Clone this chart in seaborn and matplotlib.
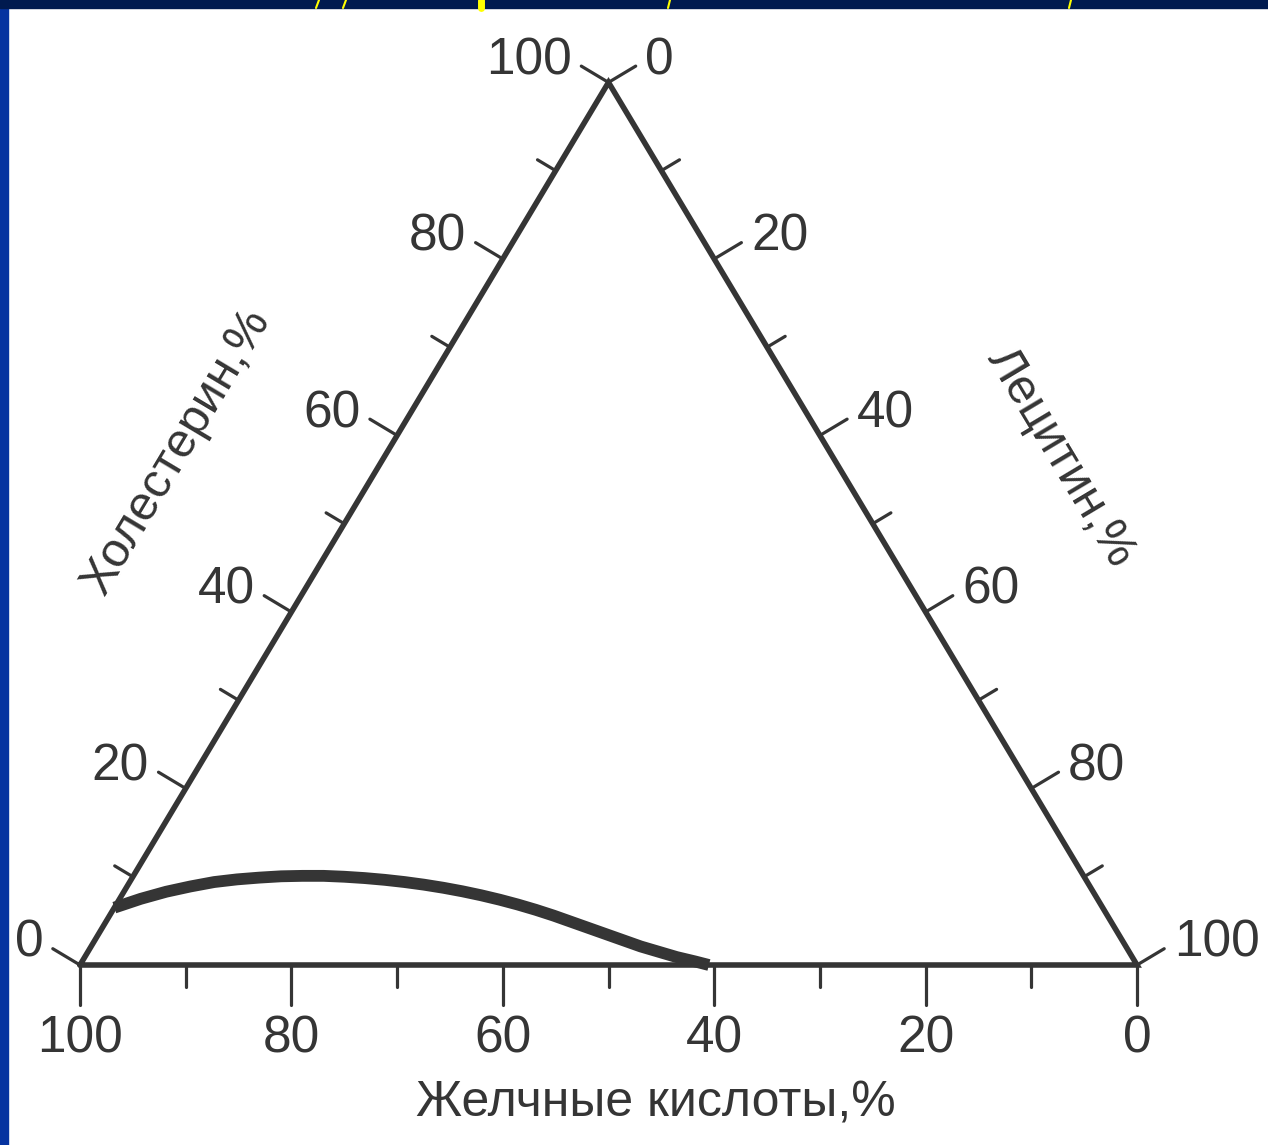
import numpy as np
import pandas as pd
import seaborn as sns
import matplotlib.pyplot as plt
from matplotlib.patches import Rectangle
from matplotlib.lines import Line2D

# boundary curve, percent
lecithin = [0, 2, 4, 6, 8, 10, 12, 14, 16, 18, 20, 22, 24, 26, 28, 30,
            32, 34, 36, 38, 40, 42, 44, 46, 48, 50, 52, 54, 56, 58, 59.5]
cholesterol = [6.5, 7.5, 8.3, 8.9, 9.4, 9.7, 9.9, 10.05, 10.1, 10.1, 10.0,
               9.85, 9.65, 9.4, 9.1, 8.75, 8.35, 7.9, 7.4, 6.85, 6.25, 5.6,
               4.9, 4.2, 3.5, 2.8, 2.1, 1.5, 0.9, 0.4, 0.0]

tick_values = [0, 10, 20, 30, 40, 50, 60, 70, 80, 90, 100]
labelled = [0, 20, 40, 60, 80, 100]

bottom_title = "Желчные кислоты,%"
left_title = "Холестерин,%"
right_title = "Лецитин,%"

W, H = 1268, 1145
PX = 10.57        # pixels per percent
TRI_H = 0.835     # triangle height / base
INK = "#353535"
TXT = "#353535"


def to_xy(chol, lec):
    chol = np.asarray(chol, float)
    lec = np.asarray(lec, float)
    return lec + chol / 2, chol * TRI_H


sns.set_theme(style="white")
plt.rcParams['font.family'] = ['Liberation Sans', 'DejaVu Sans']

fig = plt.figure(figsize=(W / 100, H / 100), dpi=100)
fig.patch.set_facecolor("white")
ax = fig.add_axes([0, 0, 1, 1])
x0 = -80 / PX
y0 = -(H - 965) / PX
ax.set_xlim(x0, x0 + W / PX)
ax.set_ylim(y0, y0 + H / PX)
ax.set_axis_off()

# triangle
corners = to_xy([0, 0, 100, 0], [0, 100, 0, 0])
ax.plot(corners[0], corners[1], color=INK, lw=4.0, solid_joinstyle="miter", zorder=3)

# side geometry
apex = np.array(to_xy(100, 0))
d = apex / np.hypot(*apex)
n_left = np.array([-d[1], d[0]])
n_right = np.array([d[1], d[0]])

for v in tick_values:
    major = v in labelled
    # bottom axis: bile acids, 100 at the left corner
    bx, by = to_xy(0, 100 - v)
    L = 3.8 if major else 2.1
    ax.plot([bx, bx], [by, by - L], color=INK, lw=2.3, zorder=3)
    if major:
        ax.text(bx, by - L - 0.9, str(v), ha="center", va="top",
                fontsize=37, color=TXT)

    # left side: cholesterol, 0 at the bottom
    p = np.array(to_xy(v, 0))
    L = 3.0 if major else 2.0
    e = p + n_left * L
    ax.plot([p[0], e[0]], [p[1], e[1]], color=INK, lw=2.3, zorder=3)
    if major:
        ax.text(e[0] - 0.9, e[1] + 0.5, str(v), ha="right", va="center",
                fontsize=37, color=TXT)

    # right side: lecithin, 0 at the top
    p = np.array(to_xy(100 - v, v))
    e = p + n_right * L
    ax.plot([p[0], e[0]], [p[1], e[1]], color=INK, lw=2.3, zorder=3)
    if major:
        ax.text(e[0] + 0.9, e[1] + 0.5, str(v), ha="left", va="center",
                fontsize=37, color=TXT)

# boundary curve
cx, cy = to_xy(cholesterol, lecithin)
curve = pd.DataFrame({"x": cx, "y": cy})
sns.lineplot(data=curve, x="x", y="y", sort=False, estimator=None,
             color=INK, linewidth=8.5, ax=ax, zorder=4,
             solid_capstyle="butt", solid_joinstyle="round")
ax.set_xlabel("")
ax.set_ylabel("")

# axis titles
ang = np.degrees(np.arctan2(d[1], d[0]))
ax.text(54.5, -13.1, bottom_title, ha="center", va="center", fontsize=36, color=TXT)
ax.text(9.2, 48.6, left_title, ha="center", va="center", rotation=ang,
        rotation_mode="anchor", fontsize=35, color=TXT)
ax.text(92.8, 48.0, right_title, ha="center", va="center", rotation=-ang,
        rotation_mode="anchor", fontsize=35, color=TXT)

# slide frame
fig.add_artist(Rectangle((0, 0), 8 / W, 1, transform=fig.transFigure,
                         color="#0633a0", zorder=5))
fig.add_artist(Rectangle((0, 1 - 8 / H), 1, 8 / H, transform=fig.transFigure,
                         color="#001a4f", zorder=5))
for xa, xb, lw in [(316, 319, 1.5), (343, 346, 1.5), (481, 481, 5), (668, 670, 1.5), (1069, 1071, 1.5)]:
    fig.add_artist(Line2D([xa / W, xb / W], [1 - 8 / H, 1], transform=fig.transFigure,
                          color="#ffff00", lw=lw, zorder=6))

fig.savefig("out.png", dpi=100)
